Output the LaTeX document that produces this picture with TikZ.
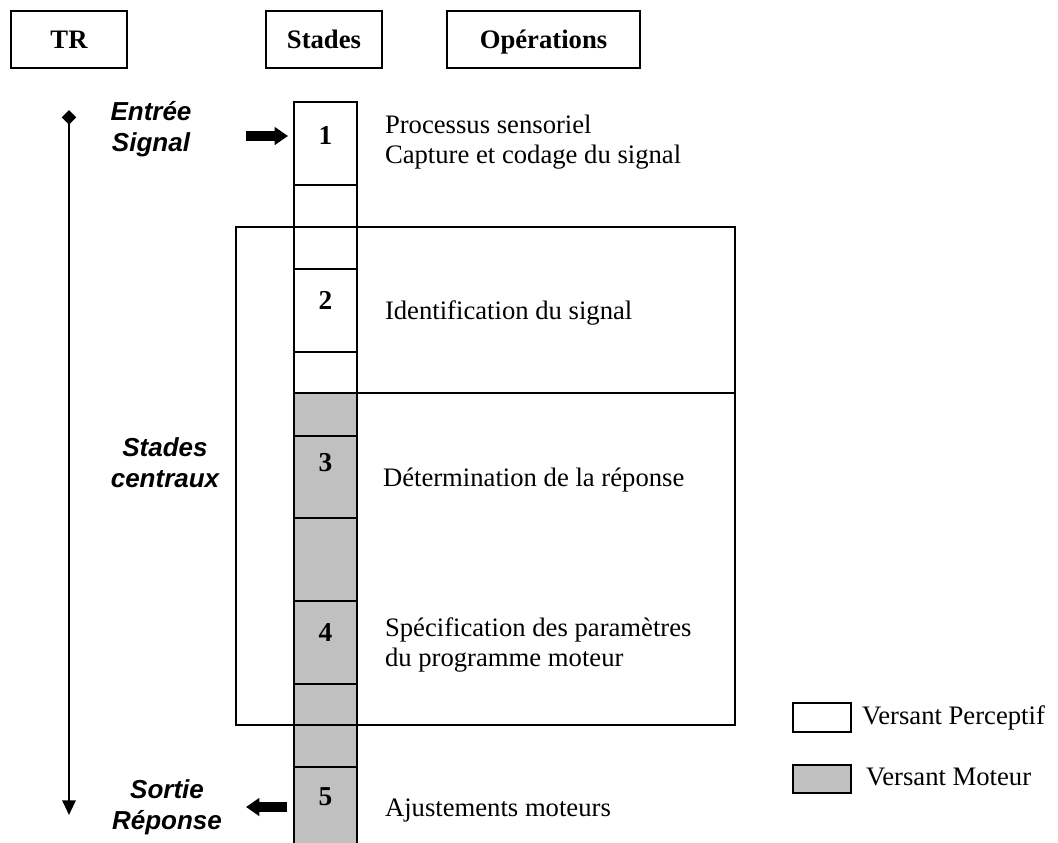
\documentclass[tikz,border=0pt]{standalone}
\usepackage{fontspec}
\setmainfont{Liberation Serif}
\newfontfamily\labelsans{Liberation Sans}
\usetikzlibrary{arrows.meta}
\definecolor{motor}{RGB}{192,192,192}
\begin{document}
\begin{tikzpicture}[x=0.75pt,y=-0.75pt,
  every node/.style={inner sep=0pt, outer sep=0pt},
  headbox/.style={draw, line width=1.5pt, minimum height=42.75pt,
    text height=13.5pt, text depth=0.5pt,
    font=\fontsize{20}{24}\selectfont\bfseries},
  percell/.style={draw, line width=1.5pt, fill=white},
  motcell/.style={draw, line width=1.5pt, fill=motor},
  stagenum/.style={font=\fontsize{20.5}{24}\selectfont\bfseries},
  optext/.style={anchor=west, align=left, font=\fontsize{20}{22}\selectfont},
  phase/.style={align=center, font=\labelsans\fontsize{19.5}{23}\selectfont\bfseries\itshape},
  blockarrow/.style={line width=7pt, -{Triangle[length=10pt,width=13pt]}},
  legendbox/.style={draw, line width=1.5pt},
]
\useasboundingbox (0,0) rectangle (1058,843);

% column headers
\node[headbox, minimum width=87pt]     (hTR)     at (69,39.5)    {TR};
\node[headbox, minimum width=87pt]     (hStades) at (324,39.5)   {Stades};
\node[headbox, minimum width=144.75pt] (hOps)    at (543.5,39.5) {Opérations};

% stage column: perceptual part (white) then motor part (grey)
\foreach \a/\b in {102/185,185/269,269/352,352/393}
  \draw[percell] (294,\a) rectangle (357,\b);
\foreach \a/\b in {393/436,436/518,518/601,601/684,684/767}
  \draw[motcell] (294,\a) rectangle (357,\b);
\fill[motor] (294,767) rectangle (357,850);
\draw[line width=1.5pt] (294,850) -- (294,767) -- (357,767) -- (357,850);

% frame around the central stages
\draw[line width=1.1pt] (236,227) rectangle (735,725);
\draw[line width=0.8pt] (357,393) -- (735,393);

% stage numbers
\node[stagenum] (n1) at (325.5,135) {1};
\node[stagenum] (n2) at (325.5,300) {2};
\node[stagenum] (n3) at (325.5,463) {3};
\node[stagenum] (n4) at (325.5,632) {4};
\node[stagenum] (n5) at (325.5,797) {5};

% operations
\node[optext] (op1) at (385,142) {Processus sensoriel\\Capture et codage du signal};
\node[optext] (op2) at (385,313) {Identification du signal};
\node[optext] (op3) at (383,480) {Détermination de la réponse};
\node[optext] (op4) at (385,645) {Spécification des paramètres\\du programme moteur};
\node[optext] (op5) at (385,811) {Ajustements moteurs};

% reaction time axis
\coordinate (trTop) at (69,110);
\coordinate (trBot) at (69,815);
\draw[line width=1.5pt, {Diamond[length=11pt,width=11pt]}-{Triangle[length=11pt,width=10pt]}] (trTop) -- (trBot);

% phase labels
\node[phase] (inLbl)  at (151,129) {Entrée\\Signal};
\node[phase] (midLbl) at (165,463) {Stades\\centraux};
\node[phase] (outLbl) at (167,807) {Sortie\\Réponse};

% signal in / response out
\coordinate (inTail) at (246,136);
\coordinate (inHead) at (288,136);
\draw[blockarrow] (inTail) -- (inHead);
\coordinate (outTail) at (287,807);
\coordinate (outHead) at (246,807);
\draw[blockarrow] (outTail) -- (outHead);

% legend
\draw[legendbox, fill=white] (793,703) rectangle (851,732);
\node[anchor=west, font=\fontsize{20}{24}\selectfont] (legP) at (862,718) {Versant Perceptif};
\draw[legendbox, fill=motor] (793,765) rectangle (851,793);
\node[anchor=west, font=\fontsize{20}{24}\selectfont] (legM) at (866,777) {Versant Moteur};
\end{tikzpicture}
\end{document}
